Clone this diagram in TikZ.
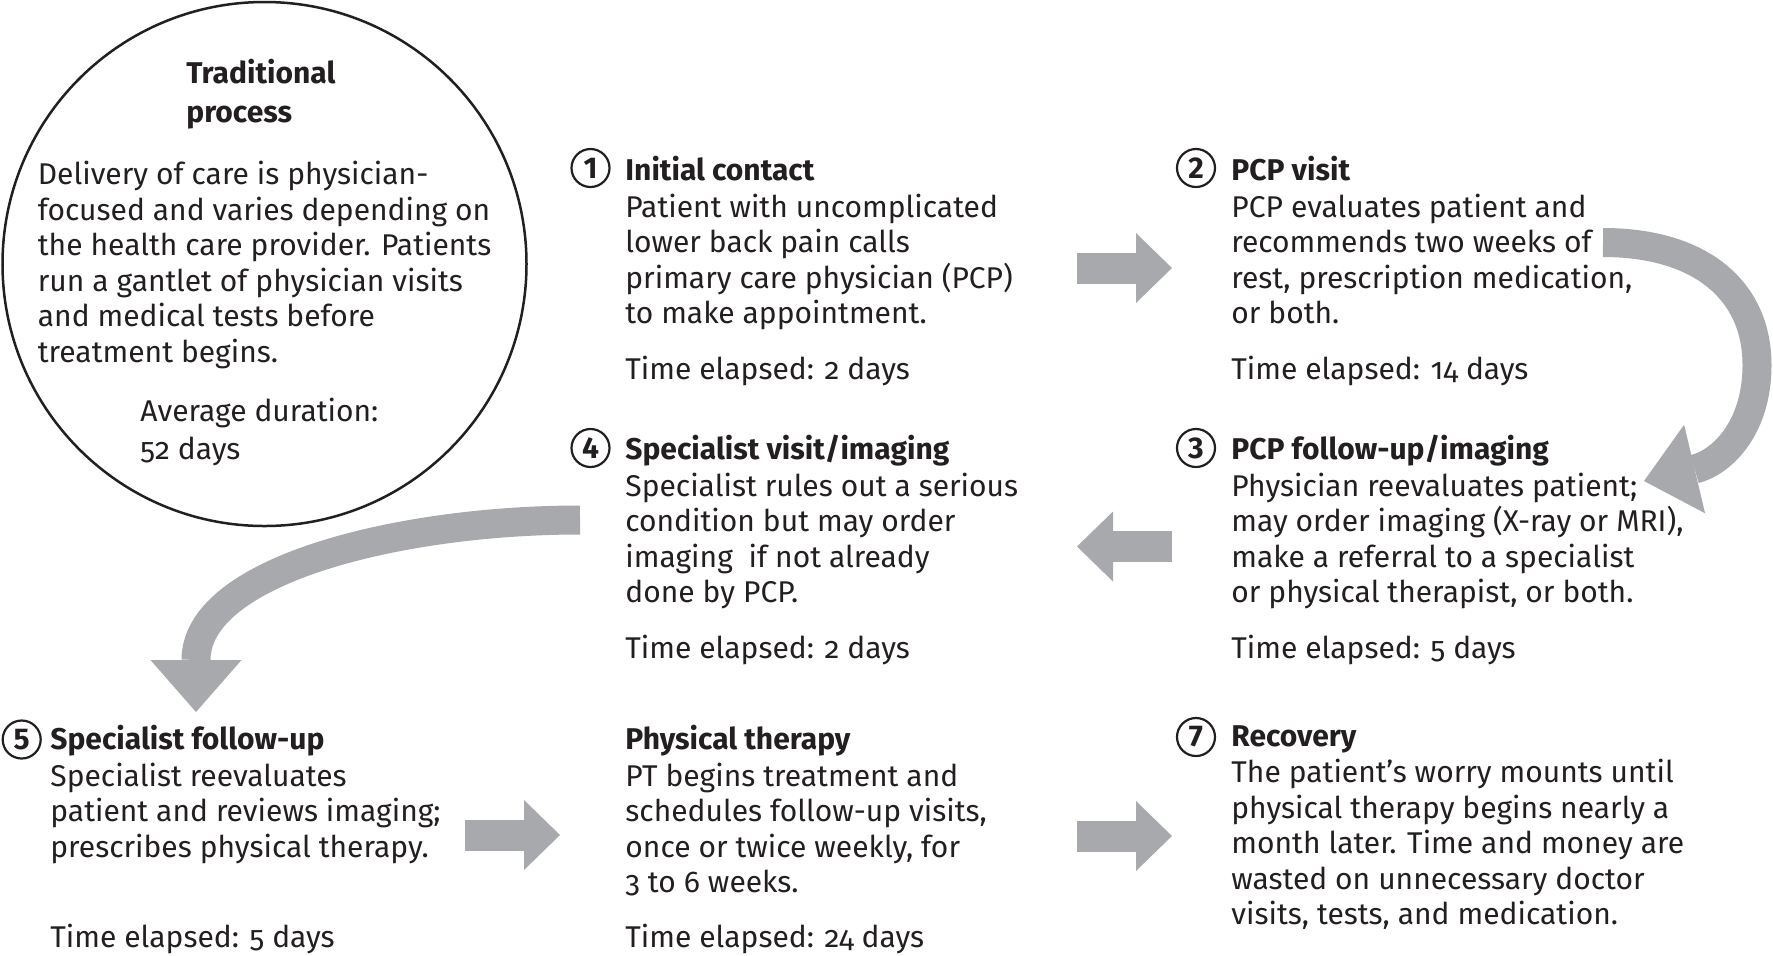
\documentclass[tikz,border=0pt]{standalone}
\usepackage{fontspec}
\setmainfont{Fira Sans}[Numbers=OldStyle]
\usepackage{tikz}
\usetikzlibrary{arrows.meta,positioning}
\definecolor{ChartInk}{HTML}{231F20}
\definecolor{ChartGray}{HTML}{A7A9AC}
\newcommand{\stepHead}[1]{\textbf{#1}\\[0.5pt]}

\begin{document}
\begin{tikzpicture}[x=0.5pt,y=-0.5pt,
  txt/.style={anchor=north west,inner sep=0pt,align=left,text=ChartInk,font=\fontsize{15}{17.75}\selectfont},
  line/.style={txt,anchor=base west},
  num/.style={circle,draw=ChartInk,line width=1.1pt,minimum size=19pt,inner sep=0pt,text=ChartInk,font=\fontsize{15}{15}\selectfont\bfseries\addfontfeature{Numbers=Lining}},
  flow/.style={draw=ChartGray,line width=15.5pt,-{Triangle[length=18pt,width=35pt,line width=0pt]}},
  swoop/.style={draw=ChartGray,line width=14.5pt,-{Triangle[length=26pt,width=45.5pt,line width=0pt]}}
]
\fill[white] (0,0) rectangle (1773,955);
\useasboundingbox (0,0) rectangle (1773,955);

% summary circle
\draw[ChartInk,line width=1.25pt] (264.5,264) circle[radius=262];
\node[txt] (trad) at (186,59) {\textbf{Traditional}\\[1.5pt]\textbf{process}};
\node[txt] (tradtext) at (37.5,161) {Delivery of care is physician-\\focused and varies depending on\\the health care provider. Patients\\run a gantlet of physician visits\\and medical tests before\\treatment begins.};
\node[txt] (avg) at (140,398) {Average duration:\\[1pt]52 days};

% row 1
\node[num] (n1) at (590.5,168) {1};
\node[txt] (s1) at (625,156) {\stepHead{Initial contact}Patient with uncomplicated\\lower back pain calls\\primary care physician (PCP)\\to make appointment.};
\node[line] (t1) at (625,379) {Time elapsed: 2 days};
\node[num] (n2) at (1196,168) {2};
\node[txt] (s2) at (1231,156) {\stepHead{PCP visit}PCP evaluates patient and\\recommends two weeks of\\rest, prescription medication,\\or both.};
\node[line] (t2) at (1231,379) {Time elapsed: 14 days};

% row 2
\node[num] (n4) at (590.5,448) {4};
\node[txt] (s4) at (625,435) {\stepHead{Specialist visit/imaging}Specialist rules out a serious\\condition but may order\\imaging \ if not already\\done by PCP.};
\node[line] (t4) at (625,658) {Time elapsed: 2 days};
\node[num] (n3) at (1196,448) {3};
\node[txt] (s3) at (1231,435) {\stepHead{PCP follow-up/imaging}Physician reevaluates patient;\\may order imaging (X-ray or MRI),\\make a referral to a specialist\\or physical therapist, or both.};
\node[line] (t3) at (1231,658) {Time elapsed: 5 days};

% row 3
\node[num] (n5) at (21.7,739.5) {5};
\node[txt] (s5) at (50,725) {\stepHead{Specialist follow-up}Specialist reevaluates\\patient and reviews imaging;\\prescribes physical therapy.};
\node[line] (t5) at (50,947) {Time elapsed: 5 days};
\node[txt] (s6) at (625,725) {\stepHead{Physical therapy}PT begins treatment and\\schedules follow-up visits,\\once or twice weekly, for\\3 to 6 weeks.};
\node[line] (t6) at (625,947) {Time elapsed: 24 days};
\node[num] (n7) at (1196,737) {7};
\node[txt] (s7) at (1231,725) {\stepHead{Recovery}The patient’s worry mounts until\\physical therapy begins nearly a\\month later. Time and money are\\wasted on unnecessary doctor\\visits, tests, and medication.};

% arrows
\coordinate (a12s) at (1077,268);
\coordinate (a12e) at (1172,268);
\coordinate (a34s) at (1172,546.5);
\coordinate (a34e) at (1077,546.5);
\coordinate (a56s) at (465,835);
\coordinate (a56e) at (560,835);
\coordinate (a67s) at (1077,836);
\coordinate (a67e) at (1172,836);
\coordinate (c23s) at (1603,242.5);
\coordinate (c23e) at (1644,481);
\coordinate (c45s) at (580,520);
\coordinate (c45e) at (196,712);
\draw[flow] (a12s) -- (a12e);
\draw[flow] (a34s) -- (a34e);
\draw[flow] (a56s) -- (a56e);
\draw[flow] (a67s) -- (a67e);
\draw[swoop] (c23s) .. controls (1700,242.5) and (1757,290) .. (1757,365) .. controls (1757,430) and (1720,463) .. (c23e);
\draw[swoop] (c45s) .. controls (400,520) and (196,570) .. (c45e);
\end{tikzpicture}
\end{document}
